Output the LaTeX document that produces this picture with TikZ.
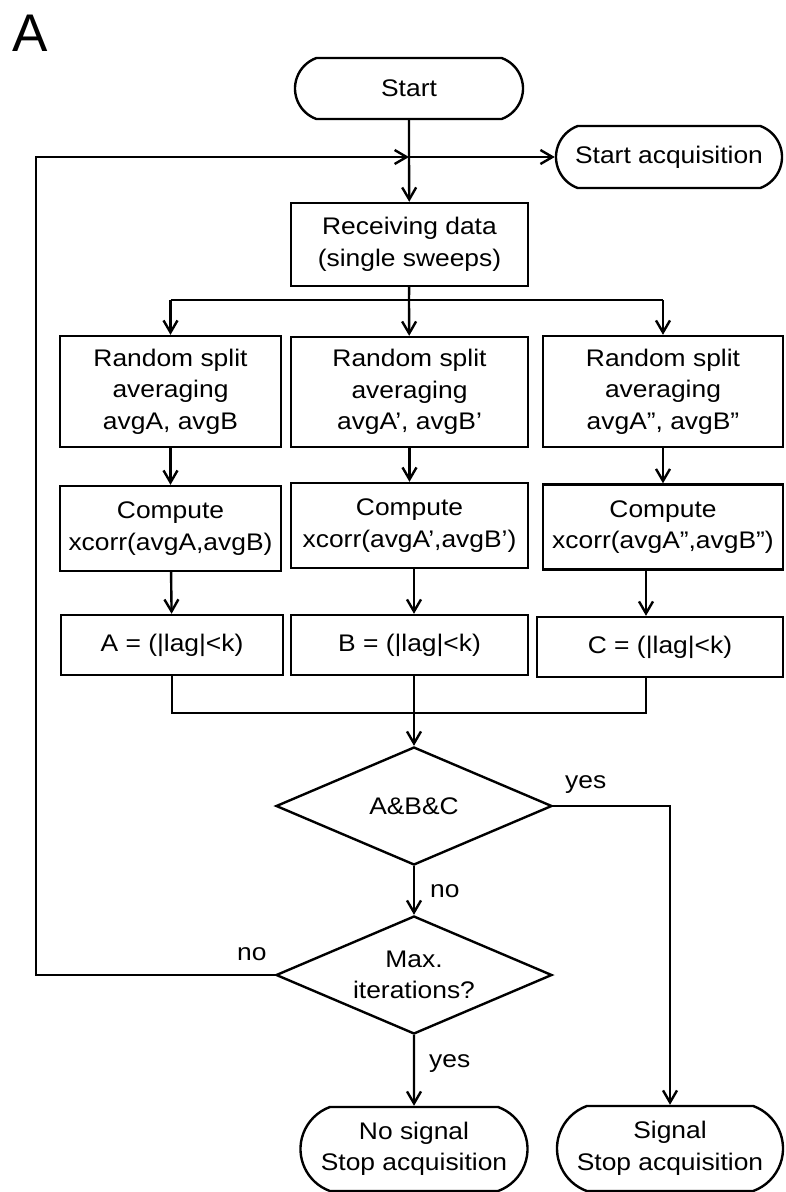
\documentclass[tikz,border=0pt]{standalone}
\usepackage{fontspec}
\setmainfont[FakeStretch=1.1]{Liberation Sans}
\newfontfamily\panelfont{Liberation Sans}
\usepackage{tikz}
\usetikzlibrary{positioning, arrows.meta, shapes.geometric, shapes.misc}
\tikzstyle{block} = [rectangle, draw, line width=2.4pt, align=center, inner sep=0pt,
font=\fontsize{24}{31.5}\selectfont]
\tikzstyle{terminal} = [block, rounded rectangle, rounded rectangle arc length=140]
\tikzstyle{decision} = [diamond, draw, line width=2.4pt, align=center, inner sep=0pt, aspect=2.3,
minimum width=276pt, minimum height=118pt, font=\fontsize{24}{31.5}\selectfont]
\tikzstyle{lbl} = [inner sep=0pt, anchor=base west, font=\fontsize{24}{30}\selectfont]
\tikzstyle{line} = [line width=2.4pt]
\tikzstyle{arrow} = [line width=2.4pt,-{Straight Barb[length=12pt,width=14pt]}]

\begin{document}
\begin{tikzpicture}[x=1pt, y=-1pt]
        \useasboundingbox (0,0) rectangle (785,1192);
        \node (panel) [inner sep=0pt, anchor=base west, font=\panelfont\fontsize{53}{53}\selectfont] at (12,51) {A};
        \node (start) [terminal, minimum width=228pt, minimum height=61pt] at (409,88.5) {Start};
        \node (acq) [terminal, minimum width=226pt, minimum height=62pt] at (669,157) {Start acquisition};
        \node (recv) [block, minimum width=237pt, minimum height=83pt] at (409.5,244.5) {Receiving data\\(single sweeps)};
        % random split averaging
        \node (splitA) [block, minimum width=221pt, minimum height=111pt] at (170.5,391.5) {Random split\\averaging\\avgA, avgB};
        \node (splitB) [block, minimum width=237pt, minimum height=110pt] at (409.5,392) {Random split\\averaging\\avgA’, avgB’};
        \node (splitC) [block, minimum width=240pt, minimum height=111pt] at (663,391.5) {Random split\\averaging\\avgA”, avgB”};
        % cross correlation
        \node (xcA) [block, minimum width=221pt, minimum height=85pt] at (170.5,528.5) {Compute\\xcorr(avgA,avgB)};
        \node (xcB) [block, minimum width=237pt, minimum height=85pt] at (409.5,525.5) {Compute\\xcorr(avgA’,avgB’)};
        \node (xcC) [block, minimum width=240pt, minimum height=85pt] at (663,527) {Compute\\xcorr(avgA”,avgB”)};
        % lag test
        \node (lagA) [block, minimum width=222pt, minimum height=60pt] at (172,645) {A = (|lag|<k)};
        \node (lagB) [block, minimum width=237pt, minimum height=60pt] at (409.5,645) {B = (|lag|<k)};
        \node (lagC) [block, minimum width=246pt, minimum height=60pt] at (660,647) {C = (|lag|<k)};
        \node (allok) [decision] at (414,806) {A\&B\&C};
        \node (maxit) [decision] at (414,975) {Max.\\iterations?};
        \node (nosig) [terminal, minimum width=227pt, minimum height=84pt] at (414,1149) {No signal\\Stop acquisition};
        \node (sig) [terminal, minimum width=226pt, minimum height=85pt] at (670,1148.5) {Signal\\Stop acquisition};
        \node (yesA) [lbl] at (565,788) {yes};
        \node (noA) [lbl] at (430,897) {no};
        \node (noM) [lbl] at (237,960) {no};
        \node (yesM) [lbl] at (429,1067) {yes};

        \coordinate (junc) at (409,157);
        \coordinate (fork) at (409,300);
        \coordinate (merge) at (414,713);
        \coordinate (mergeA) at (172,713);
        \coordinate (mergeC) at (646,713);
        \coordinate (loop) at (36,975);

        \draw [line] (start) -- (junc);
        \draw [arrow] (junc) -- (recv);
        \draw [arrow] (junc) -- (acq);
        \draw [line] (recv) -- (fork);
        \draw [line] (fork -| splitA) -- (fork -| splitC);
        \draw [arrow] (fork -| splitA) -- (splitA);
        \draw [arrow] (fork) -- (splitB);
        \draw [arrow] (fork -| splitC) -- (splitC);
        \draw [arrow] (splitA) -- (xcA);
        \draw [arrow] (splitB) -- (xcB);
        \draw [arrow] (splitC) -- (xcC);
        \draw [arrow] (xcA) -- (lagA);
        \draw [arrow] (xcB.south -| merge) -- (lagB.north -| merge);
        \draw [arrow] (xcC.south -| mergeC) -- (lagC.north -| mergeC);
        \draw [line] (lagA) -- (mergeA) -- (mergeC) -- (mergeC |- lagC.south);
        \draw [line] (lagB.south -| merge) -- (merge);
        \draw [arrow] (merge) -- (allok);
        \draw [arrow] (allok.east) -| (sig);
        \draw [arrow] (allok) -- (maxit);
        \draw [arrow] (maxit) -- (nosig);
        \draw [arrow] (maxit.west) -- (loop) |- (junc);
\end{tikzpicture}
\end{document}
